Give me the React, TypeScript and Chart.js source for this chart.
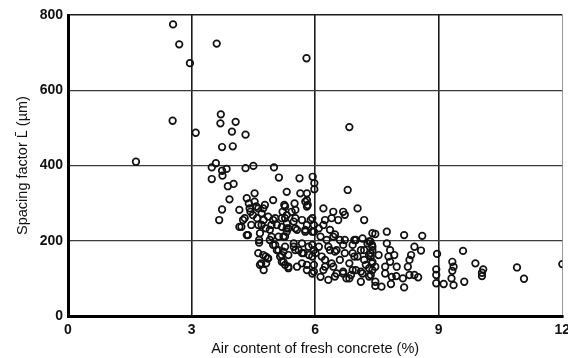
import { useEffect, useRef } from 'react';
import { Chart, registerables } from 'chart.js';

Chart.register(...registerables);

// Air content of fresh concrete (%) for each specimen
const airContent = [
  2.55, 2.70, 2.96, 2.54, 1.65, 3.61, 5.79, 3.10, 3.71, 3.70, 4.07, 3.98, 4.31, 3.74, 4.00, 6.83,
  3.49, 3.59, 3.74, 3.85, 4.31, 4.50, 5.00, 5.12, 5.62, 5.94, 3.49,
  3.88, 4.02, 3.92, 3.74, 3.67, 4.16, 4.34, 4.53, 4.39, 4.43, 4.57, 4.70, 4.78, 4.75, 4.59, 4.25,
  4.16, 4.34, 4.62, 4.80, 4.98, 5.31, 5.64, 5.98, 5.98, 5.80, 5.82, 5.50, 5.25, 5.21, 5.43, 5.19,
  4.98, 5.07, 4.90, 5.31, 5.48, 5.68, 5.89, 5.97, 5.93, 5.76, 5.56, 5.31, 5.11, 5.23, 4.90, 4.64,
  4.62, 4.80, 4.66, 4.75, 4.86, 4.98, 5.07, 5.15, 5.23, 5.35, 5.56, 5.68, 5.80, 5.72, 5.60, 5.48,
  5.84, 5.97, 5.93, 5.97, 5.93, 6.13, 6.32, 6.20, 6.24, 6.36, 6.28, 6.44, 6.60, 6.52, 6.60, 6.44,
  6.52, 6.68, 6.76, 6.87, 6.99, 6.83, 6.95, 7.11, 6.99, 7.15, 7.27, 7.31, 7.23, 7.15, 7.11, 7.39,
  7.39, 7.39, 7.19, 7.03, 6.79, 6.68, 6.56, 6.44, 6.40, 6.24, 6.20, 6.20, 6.36, 6.09, 6.13,
  7.46, 7.74, 8.16, 8.60, 7.31, 7.39, 7.35, 7.54, 7.39, 7.46, 7.31, 7.35, 7.46, 7.61, 7.46,
  7.74, 7.82, 7.78, 7.92, 7.82, 7.98, 7.70, 7.70, 7.86, 7.97, 8.13, 8.16, 7.84, 8.29, 8.41, 8.50,
  8.29, 8.33, 8.41, 8.57, 8.25, 8.96, 8.94, 8.94, 8.94, 9.12, 9.33, 9.36, 9.33, 9.31, 9.36, 9.59,
  9.62, 9.89, 10.08, 10.05, 10.05, 10.90, 11.07, 12.0,
  4.64, 4.74, 4.85, 4.69, 4.81, 5.03, 5.11, 5.19, 5.19, 5.27, 5.23,
  5.35, 5.80, 5.97, 6.48, 6.68, 6.83, 6.91, 7.11, 7.31, 7.38, 7.19, 7.03, 6.91, 6.72, 6.40, 6.24,
  6.16, 6.01, 5.85, 5.68, 5.52, 5.35, 5.27, 5.48, 5.68, 5.93, 6.09, 6.32, 6.48, 6.68, 6.91, 7.19,
  7.34, 7.38,
  5.80, 5.76, 5.80, 5.52, 5.27, 6.72, 5.27, 5.52, 5.93, 5.80, 5.76, 5.97, 5.52, 5.35, 5.27, 6.48,
  6.72, 6.95, 7.34,
  3.75, 4.53, 4.41, 4.62, 4.74, 4.49, 4.86, 5.03, 4.29, 4.21, 4.45, 4.70, 4.94, 5.19, 4.37, 4.66,
  4.94, 5.31, 5.31,
];

// Spacing factor L̄ (µm) for each specimen, same order as airContent
const spacingFactor = [
  775, 722, 672, 519, 410, 724, 685, 487, 536, 512, 516, 490, 482, 449, 451, 502,
  395, 406, 386, 391, 393, 399, 395, 368, 366, 370, 364,
  345, 351, 310, 283, 255, 282, 313, 326, 299, 277, 291, 273, 295, 255, 260, 255,
  237, 215, 242, 233, 308, 330, 326, 353, 337, 308, 295, 299, 295, 277, 277, 260,
  255, 242, 229, 246, 251, 255, 255, 242, 224, 229, 229, 224, 211, 211, 202, 202,
  167, 158, 136, 122, 153, 189, 175, 158, 144, 131, 131, 140, 136, 167, 175, 184,
  184, 175, 158, 136, 113, 104, 96, 122, 149, 175, 202, 211, 202, 175, 149, 131,
  113, 118, 100, 109, 122, 140, 158, 175, 202, 206, 193, 162, 136, 113, 91, 122,
  175, 220, 255, 286, 335, 277, 255, 277, 260, 255, 286, 242, 229, 233, 211,
  218, 224, 215, 213, 198, 184, 158, 162, 144, 131, 127, 109, 91, 78, 80,
  193, 175, 158, 162, 144, 131, 131, 113, 104, 106, 100, 76, 85, 109, 109, 103,
  149, 162, 184, 174, 131, 165, 124, 109, 87, 85, 144, 131, 120, 100, 82, 173,
  91, 140, 124, 115, 106, 129, 99, 138,
  195, 162, 153, 140, 140, 189, 175, 162, 144, 136, 171,
  127, 122, 118, 105, 113, 100, 122, 118, 105, 140, 149, 158, 167, 167, 140, 131,
  158, 167, 162, 167, 175, 162, 184, 193, 193, 189, 184, 184, 171, 189, 189, 175,
  167, 189,
  326, 304, 291, 282, 291, 269, 260, 260, 260, 242, 224, 224, 233, 233, 211, 217,
  202, 202, 198,
  373, 304, 286, 286, 286, 268, 264, 260, 260, 237, 242, 242, 242, 237, 215, 220,
  211, 233, 268,
];

const xTicks = [0, 3, 6, 9, 12];
const yTicks = [0, 200, 400, 600, 800];

const xTitle = 'Air content of fresh concrete (%)';
const yTitle = 'Spacing factor L\u0304 (\u00b5m)';

const fontFamily = "'Liberation Sans', Arial, Helvetica, sans-serif";

export default function App() {
  const canvasRef = useRef<HTMLCanvasElement | null>(null);

  useEffect(() => {
    document.body.style.margin = '0';
    const canvas = canvasRef.current;
    if (!canvas) return;

    const points = airContent.map((x, i) => ({ x, y: spacingFactor[i] }));

    const chart = new Chart(canvas, {
      type: 'scatter',
      data: {
        datasets: [
          {
            data: points,
            pointStyle: 'circle',
            pointRadius: 3.3,
            pointBorderWidth: 1.7,
            pointBorderColor: '#111',
            pointBackgroundColor: 'rgba(0,0,0,0)',
          },
        ],
      },
      options: {
        responsive: false,
        animation: false,
        events: [],
        layout: { padding: { left: 0, right: 2, top: 15, bottom: 0 } },
        plugins: {
          legend: { display: false },
          tooltip: { enabled: false },
        },
        scales: {
          x: {
            type: 'linear',
            min: 0,
            max: 12,
            afterBuildTicks: (s: any) => {
              s.ticks = xTicks.map((v) => ({ value: v }));
            },
            afterFit: (s: any) => {
              s.height = 42;
              s.paddingLeft = 0;
              s.paddingRight = 0;
            },
            border: { display: true, color: '#000', width: 3 },
            grid: {
              drawTicks: false,
              color: (ctx: any) => {
                const v = ctx.tick?.value;
                if (v === 0) return 'rgba(0,0,0,0)';
                if (v === 12) return '#9a9a9a';
                return '#1c1c1c';
              },
              lineWidth: (ctx: any) => (ctx.tick?.value === 12 ? 1 : 1.6),
            },
            ticks: {
              padding: 6,
              color: '#111',
              font: { family: fontFamily, size: 14, weight: 'bold' },
              callback: (v: any) => String(v),
            },
            title: {
              display: true,
              text: xTitle,
              color: '#111',
              font: { family: fontFamily, size: 14.5 },
              padding: { top: 0, bottom: 0 },
            },
          },
          y: {
            type: 'linear',
            min: 0,
            max: 800,
            afterBuildTicks: (s: any) => {
              s.ticks = yTicks.map((v) => ({ value: v }));
            },
            afterFit: (s: any) => {
              s.width = 68;
              s.paddingTop = 0;
              s.paddingBottom = 0;
            },
            border: { display: true, color: '#000', width: 3 },
            grid: {
              drawTicks: false,
              color: (ctx: any) => {
                const v = ctx.tick?.value;
                if (v === 0) return 'rgba(0,0,0,0)';
                if (v === 800) return '#1c1c1c';
                return '#3a3a3a';
              },
              lineWidth: (ctx: any) => (ctx.tick?.value === 800 ? 1.6 : 1.3),
            },
            ticks: {
              padding: 5,
              color: '#111',
              font: { family: fontFamily, size: 14, weight: 'bold' },
              callback: (v: any) => String(v),
            },
            title: {
              display: true,
              text: yTitle,
              color: '#111',
              font: { family: fontFamily, size: 14.5 },
              padding: { top: 14, bottom: 0 },
            },
          },
        },
      },
    });

    return () => chart.destroy();
  }, []);

  return (
    <div style={{ width: 568, height: 358, background: '#fff' }}>
      <canvas ref={canvasRef} width={568} height={358} style={{ display: 'block' }} />
    </div>
  );
}
